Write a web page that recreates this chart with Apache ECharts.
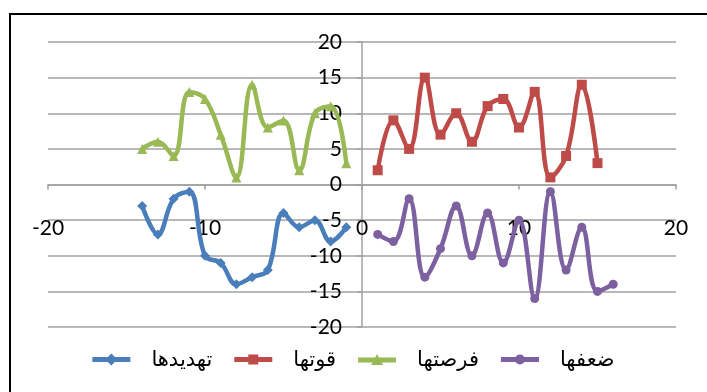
<!DOCTYPE html>
<html>
<head>
<meta charset="utf-8">
<script src="https://cdn.jsdelivr.net/npm/echarts@6/dist/echarts.min.js"></script>
<style>
  html, body { margin: 0; padding: 0; background: #fff; }
  #chart { width: 707px; height: 392px; }
</style>
</head>
<body>
<div id="chart"></div>
<script>
// Four quadrant series (SWOT-style), x positions and y values
const threatsX = [-14, -13, -12, -11, -10, -9, -8, -7, -6, -5, -4, -3, -2, -1];
const threatsY = [-3, -7, -2, -1, -10, -11, -14, -13, -12, -4, -6, -5, -8, -6];

const strengthsX = [1, 2, 3, 4, 5, 6, 7, 8, 9, 10, 11, 12, 13, 14, 15];
const strengthsY = [2, 9, 5, 15, 7, 10, 6, 11, 12, 8, 13, 1, 4, 14, 3];

const opportunitiesX = [-14, -13, -12, -11, -10, -9, -8, -7, -6, -5, -4, -3, -2, -1];
const opportunitiesY = [5, 6, 4, 13, 12, 7, 1, 14, 8, 9, 2, 10, 11, 3];

const weaknessesX = [1, 2, 3, 4, 5, 6, 7, 8, 9, 10, 11, 12, 13, 14, 15, 16];
const weaknessesY = [-7, -8, -2, -13, -9, -3, -10, -4, -11, -5, -16, -1, -12, -6, -15, -14];

const seriesNames = ['تهديدها', 'قوتها', 'فرصتها', 'ضعفها'];

const pairs = (xs, ys) => xs.map((x, i) => [x, ys[i]]);

const FONT = 'Lato, "DejaVu Sans", sans-serif';
const GRID_GRAY = '#a0a0a0';

// plot area in pixels; both axes are shifted so they cross at (0, 0)
const GRID = { left: 48, right: 31, top: 42, bottom: 65 };
const PLOT_W = 707 - GRID.left - GRID.right;
const PLOT_H = 392 - GRID.top - GRID.bottom;

// legend keys: a thick stroke with the series marker in the middle (38 x 12 box)
const BAR = 'M0,3.5 H38 V8.5 H0 Z ';
const legendIcons = [
  'path://' + BAR + 'M19,0 L25,6 L19,12 L13,6 Z',
  'path://' + BAR + 'M14,1 H24 V11 H14 Z',
  'path://' + BAR + 'M19,0 L25,11 L13,11 Z',
  'path://' + BAR + 'M14,6 A5,5 0 1 1 24,6 A5,5 0 1 1 14,6 Z'
];

function lineSeries(name, data, color, symbol, size) {
  return {
    name: name,
    type: 'line',
    data: data,
    smooth: 0.4,
    symbol: symbol,
    symbolSize: size,
    showSymbol: true,
    lineStyle: { color: color, width: 4.5 },
    itemStyle: { color: color },
    emphasis: { disabled: true }
  };
}

const chart = echarts.init(document.getElementById('chart'), null, { renderer: 'canvas' });

chart.setOption({
  animation: false,
  backgroundColor: '#ffffff',
  graphic: [{
    type: 'rect',
    shape: { x: 10, y: 14, width: 720, height: 400 },
    style: { fill: 'none', stroke: '#000', lineWidth: 2 },
    silent: true,
    z: -1
  }],
  grid: Object.assign({ containLabel: false }, GRID),
  legend: {
    left: 'center',
    top: 344,
    itemWidth: 38,
    itemHeight: 12,
    itemGap: 22,
    itemStyle: { borderWidth: 0 },
    textStyle: { fontFamily: FONT, fontSize: 21, color: '#000', padding: [0, 0, 0, 16] },
    data: seriesNames.map((name, i) => ({ name: name, icon: legendIcons[i] }))
  },
  xAxis: {
    type: 'value',
    min: -20,
    max: 20,
    interval: 10,
    offset: -PLOT_H / 2,
    axisLine: { show: true, onZero: false, lineStyle: { color: GRID_GRAY, width: 1.5 } },
    axisTick: { show: true, length: 5, lineStyle: { color: GRID_GRAY, width: 1.5 } },
    splitLine: { show: false },
    axisLabel: { margin: 33, fontFamily: FONT, fontSize: 21, color: '#000' }
  },
  yAxis: {
    type: 'value',
    min: -20,
    max: 20,
    interval: 5,
    offset: -PLOT_W / 2,
    axisLine: { show: true, onZero: false, lineStyle: { color: GRID_GRAY, width: 1.5 } },
    axisTick: { show: true, length: 5, lineStyle: { color: GRID_GRAY, width: 1.5 } },
    splitLine: { show: true, lineStyle: { color: GRID_GRAY, width: 1.5 } },
    axisLabel: { margin: 20, fontFamily: FONT, fontSize: 21, color: '#000' }
  },
  series: [
    lineSeries(seriesNames[0], pairs(threatsX, threatsY), '#4A7EBB', 'diamond', 10),
    lineSeries(seriesNames[1], pairs(strengthsX, strengthsY), '#BE4B48', 'rect', 10),
    lineSeries(seriesNames[2], pairs(opportunitiesX, opportunitiesY), '#98B954', 'triangle', 10),
    lineSeries(seriesNames[3], pairs(weaknessesX, weaknessesY), '#7D60A0', 'circle', 9)
  ]
});
</script>
</body>
</html>
